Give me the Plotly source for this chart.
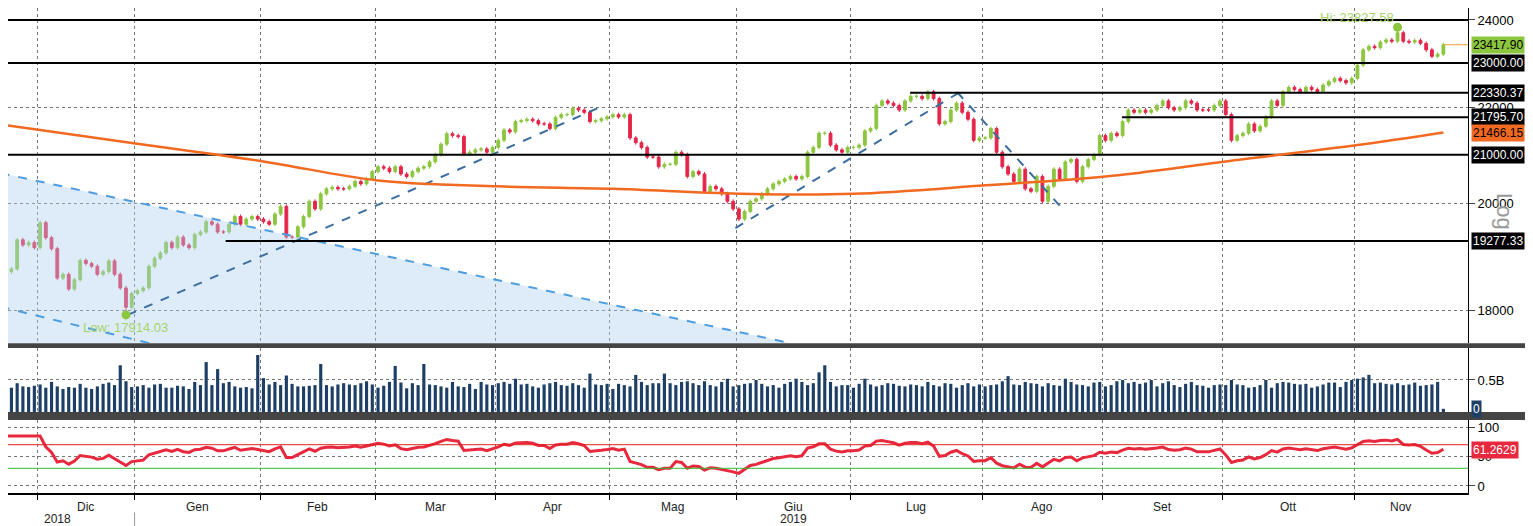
import numpy as np
import pandas as pd
import plotly.graph_objects as go
from plotly.subplots import make_subplots

# daily closes, one list per month (Nov 2018 .. Nov 2019)
nov18 = [18700, 18750, 19300, 19200, 19250, 19150]
dic18 = [19630, 19340, 19130, 18580, 18650, 18380, 18550, 18910, 18850, 18800, 18650, 18700,
         18900, 18650, 18400, 18050, 18300]
gen19 = [18350, 18400, 18800, 18950, 19050, 19250, 19150, 19350, 19200, 19150, 19400, 19450,
         19650, 19600, 19450, 19450, 19600, 19750, 19600, 19700, 19750, 19700]
feb19 = [19650, 19600, 19800, 19950, 19350, 19350, 19550, 19750, 20050, 19900, 20200, 20300,
         20330, 20300, 20300, 20350, 20450, 20400, 20500, 20650]
mar19 = [20750, 20720, 20650, 20750, 20600, 20550, 20650, 20720, 20750, 20850, 21000, 21220,
         21440, 21400, 21380, 21010, 21050, 21100, 21120, 21050, 21150]
apr19 = [21300, 21520, 21480, 21700, 21720, 21750, 21720, 21650, 21650, 21550, 21790, 21850,
         21850, 21990, 21950, 21900, 21700, 21720, 21760, 21800]
mag19 = [21850, 21800, 21850, 21350, 21250, 21150, 20950, 20950, 20750, 20800, 20800, 21050,
         21000, 20550, 20650, 20600, 20250, 20350, 20300, 20200, 20050, 19900]
giu19 = [19700, 19850, 20050, 20100, 20200, 20300, 20400, 20450, 20500, 20550, 20500, 20550,
         21050, 21150, 21450, 21450, 21200, 21100, 21050, 21150]
lug19 = [21150, 21200, 21500, 21550, 22050, 22150, 22100, 22050, 21950, 22150, 22250, 22250,
         22200, 22350, 22200, 21650, 21700, 21950, 22100, 21900, 21750, 21300, 21350]
ago19 = [21350, 21550, 21050, 20750, 20600, 20450, 20700, 20300, 20250, 20550, 20050, 20350,
         20700, 20500, 20850, 20900, 20450, 20750, 20900, 21000, 21400]
set19 = [21300, 21450, 21400, 21700, 21950, 21900, 21950, 21900, 21950, 22050, 22150, 22000,
         21950, 22000, 22150, 22100, 21950, 21950, 21950, 22050, 22150]
ott19 = [21850, 21300, 21400, 21450, 21650, 21500, 21600, 21800, 22150, 22050, 22350, 22450,
         22400, 22350, 22450, 22400, 22350, 22500, 22580, 22650, 22600, 22550, 22650]
nov19 = [22950, 23300, 23380, 23350, 23480, 23530, 23500, 23700, 23500, 23480, 23520, 23450,
         23300, 23150, 23200, 23417.90]

months = [nov18, dic18, gen19, feb19, mar19, apr19, mag19, giu19, lug19, ago19, set19, ott19, nov19]
month_labels = ["", "Dic", "Gen", "Feb", "Mar", "Apr", "Mag", "Giu", "Lug", "Ago", "Set", "Ott", "Nov"]

# daily volume in millions, same layout
vol = [420, 380, 450, 400, 390, 410,
       430, 380, 470, 400, 360, 390, 380, 440, 380, 360, 400, 440, 460, 420, 730, 480, 390,
       400, 420, 380, 430, 440, 380, 380, 410, 400, 360, 470, 420, 780, 420, 670, 450, 470,
       400, 380, 390, 370, 890,
       530, 430, 470, 420, 570, 440, 400, 400, 410, 420, 750, 420, 400, 430, 450, 430, 420, 450,
       480, 430,
       380, 410, 470, 720, 460, 370, 450, 420, 750, 430, 420, 400, 380, 470, 400, 390, 440, 360,
       470, 430, 420,
       450, 470, 440, 520, 430, 440, 400, 380, 430, 450, 470, 420, 410, 450, 420, 380, 600, 430,
       420, 440,
       360, 440, 420, 400, 580, 470, 420, 450, 450, 600, 450, 420, 470, 480, 450, 420, 480, 420,
       400, 470, 520, 400,
       420, 440, 450, 500, 440, 400, 420, 380, 440, 470, 520, 470, 420, 450, 620, 730, 470, 400,
       420, 420,
       380, 440, 520, 430, 400, 420, 450, 440, 410, 400, 430, 420, 400, 470, 420, 400, 450, 440,
       380, 420, 450, 400, 430,
       400, 420, 430, 480, 560, 430, 420, 470, 450, 440, 400, 450, 420, 410, 520, 470, 430, 420,
       400, 460, 470,
       400, 420, 480, 500, 450, 470, 440, 460, 500, 400, 450, 480, 420, 390, 440, 470, 420, 410,
       380, 420, 430,
       420, 500, 430, 420, 380, 390, 420, 500, 380, 450, 470, 460, 440, 430, 440, 380, 400, 430,
       460, 460, 390, 470, 500,
       520, 540, 580, 450, 460, 440, 430, 450, 420, 430, 460, 410, 420, 430, 470, 50]

# 200-day moving average at month boundaries
ma_idx = [0, 6, 23, 45, 65, 86, 106, 128, 148, 171, 192, 213, 236, 251]
ma_val = [21625, 21520, 21230, 20860, 20470, 20350, 20300, 20200, 20200, 20370, 20550, 20860,
          21200, 21466.15]

# drawn studies: (x0, y0, x1, y1) in trading-day index / price
trend_lines = [(21.3, 17914, 103.8, 22015), (127.4, 19525, 166.6, 22345), (166.1, 22345, 185, 19840)]
channel_upper = (-0.9, 20620, 137, 17420)
channel_lower = (-0.9, 18060, 30, 17300)
levels = [24000, 23000, 22330.37, 21795.70, 21000, 19277.33]
level_start = [-0.9, -0.9, 157.9, 194.9, -0.9, 38.4]
hi_idx, hi_val = 243, 23827.58
lo_idx, lo_val = 21, 17914.03
last_price, last_ma, last_rsi = 23417.90, 21466.15, 61.2629

close = np.array([c for m in months for c in m], dtype=float)
n = len(close)
x = np.arange(n)
opens = np.r_[close[0] - 60, close[:-1]]
high = np.maximum(opens, close) * 1.002
low = np.minimum(opens, close) * 0.998
high[hi_idx] = hi_val
low[lo_idx] = lo_val

d = pd.Series(close).diff()
up = d.clip(lower=0).ewm(alpha=1 / 14, min_periods=1).mean()
dn = (-d.clip(upper=0)).ewm(alpha=1 / 14, min_periods=1).mean()
rsi = (100 - 100 / (1 + up / dn))
rsi[:6] = rsi[6]

bounds = np.cumsum([len(m) for m in months])[:-1]
grid_x = [b - 0.5 for b in bounds]
starts = np.r_[0, bounds]
ends = np.r_[bounds, n]
mids = (starts + ends) / 2 - 0.5

UP, DN = "#8cc63f", "#e4264a"
XR = [0.4, 255.3]

fig = make_subplots(rows=3, cols=1, shared_xaxes=True)

# channel shading
fig.add_trace(go.Scatter(x=[channel_upper[0], channel_upper[2], channel_upper[0]],
                         y=[channel_upper[1], channel_upper[3], channel_upper[3]],
                         fill="toself", fillcolor="rgba(173,208,240,0.4)", line=dict(width=0),
                         mode="lines", hoverinfo="skip"), row=1, col=1)
for c in (channel_upper, channel_lower):
    fig.add_trace(go.Scatter(x=[c[0], c[2]], y=[c[1], c[3]], mode="lines",
                             line=dict(color="#4d9de0", width=2, dash="dash")), row=1, col=1)
for t in trend_lines:
    fig.add_trace(go.Scatter(x=[t[0], t[2]], y=[t[1], t[3]], mode="lines",
                             line=dict(color="#3b6d9e", width=2, dash="dash")), row=1, col=1)
for lv, s in zip(levels, level_start):
    fig.add_trace(go.Scatter(x=[s, XR[1]], y=[lv, lv], mode="lines",
                             line=dict(color="black", width=2)), row=1, col=1)

fig.add_trace(go.Scatter(x=ma_idx, y=ma_val, mode="lines",
                         line=dict(color="#f26a21", width=2.5, shape="spline")), row=1, col=1)
fig.add_trace(go.Scatter(x=[n - 1, XR[1]], y=[last_price, last_price], mode="lines",
                         line=dict(color="#f0a030", width=1)), row=1, col=1)

fig.add_trace(go.Candlestick(x=x, open=opens, high=high, low=low, close=close,
                             increasing=dict(line=dict(color=UP, width=1), fillcolor=UP),
                             decreasing=dict(line=dict(color=DN, width=1), fillcolor=DN),
                             whiskerwidth=0), row=1, col=1)
fig.add_trace(go.Scatter(x=[hi_idx, lo_idx], y=[hi_val, lo_val], mode="markers",
                         marker=dict(color=UP, size=9)), row=1, col=1)
lbl = dict(color="#a6d36a", size=13, family="Liberation Sans")
fig.add_annotation(x=hi_idx - 7, y=np.log10(24000), xref="x", yref="y", text="Hi: 23827.58",
                   showarrow=False, yanchor="middle", yshift=2, font=lbl)
fig.add_annotation(x=lo_idx, y=np.log10(lo_val), xref="x", yref="y", text="Low: 17914.03",
                   showarrow=False, yanchor="top", yshift=-3, font=lbl)

fig.add_trace(go.Bar(x=x, y=np.array(vol) * 1e6, marker_color="#1d3f66", marker_line_width=0,
                     width=0.55), row=2, col=1)

fig.add_trace(go.Scatter(x=x, y=rsi, mode="lines", line=dict(color="#e8283c", width=3)),
              row=3, col=1)
for lv, col in ((70, "#e02020"), (30, "#33bb33")):
    fig.add_trace(go.Scatter(x=XR, y=[lv, lv], mode="lines", line=dict(color=col, width=1)),
                  row=3, col=1)

grid = dict(showgrid=True, gridcolor="#777", griddash="dot", gridwidth=1)
for r in (1, 2, 3):
    fig.update_xaxes(range=XR, tickvals=grid_x, showticklabels=False, ticks="", **grid,
                     zeroline=False, row=r, col=1)
fig.update_xaxes(rangeslider_visible=False, row=1, col=1)
fig.update_xaxes(ticks="outside", ticklen=5, tickcolor="black", showline=True,
                 linecolor="black", linewidth=2, row=3, col=1)

yfont = dict(family="Liberation Sans", size=13, color="black")
fig.update_layout(
    width=1525, height=518, margin=dict(l=0, r=65, t=0, b=33),
    paper_bgcolor="white", plot_bgcolor="white", showlegend=False,
    yaxis=dict(domain=[0.309, 1], type="log", range=[np.log10(17420), np.log10(24287)],
               side="right", tickvals=[18000, 20000, 22000, 24000],
               ticktext=["18000", "20000", "22000", "24000"], ticks="outside",
               ticklen=6, tickfont=yfont, showline=True, linecolor="black", **grid),
    yaxis2=dict(domain=[0.167, 0.299], range=[0, 1.0e9], side="right",
                tickvals=[5e8], ticktext=["0.5B"], ticks="outside", ticklen=6,
                tickfont=yfont, showline=True, linecolor="black", zeroline=False, **grid),
    yaxis3=dict(domain=[0, 0.1505], range=[-11.9, 111.9], side="right",
                tickvals=[0, 50, 100], ticks="outside", ticklen=6, tickfont=yfont,
                showline=True, linecolor="black", zeroline=False, **grid),
)

# panel separators
for y0, y1 in ((0.299, 0.309), (0.1505, 0.167)):
    fig.add_shape(type="rect", xref="paper", yref="paper", x0=0, x1=1.05, y0=y0, y1=y1,
                  fillcolor="#444", line_width=0)

lab_font = dict(family="Liberation Sans", size=12, color="#222")
for m, lab in zip(mids, month_labels):
    if lab:
        fig.add_annotation(x=m, y=0, xref="x3", yref="paper", text=lab, showarrow=False,
                           yanchor="top", yshift=-5, font=lab_font)
fig.add_annotation(x=mids[1] - 5, y=0, xref="x3", yref="paper", text="2018", showarrow=False,
                   yanchor="top", yshift=-17, font=lab_font)
fig.add_annotation(x=mids[7], y=0, xref="x3", yref="paper", text="2019", showarrow=False,
                   yanchor="top", yshift=-17, font=lab_font)
fig.add_shape(type="line", xref="x3", yref="paper", x0=grid_x[1], x1=grid_x[1], y0=-0.04,
              y1=-0.07, line=dict(color="#999", width=1))

# value boxes on the right axis
boxes = [("y", 23417.90, "23417.90", "#8cc63f", "black"),
         ("y", 23000, "23000.00", "black", "white"),
         ("y", 22330.37, "22330.37", "black", "white"),
         ("y", 21795.70, "21795.70", "black", "white"),
         ("y", last_ma, "21466.15", "#f26a21", "black"),
         ("y", 21000, "21000.00", "black", "white"),
         ("y", 19277.33, "19277.33", "black", "white"),
         ("y2", 0.04e9, "0", "#1d3f66", "white"),
         ("y3", last_rsi, "61.2629", "#e8283c", "white")]
for yr, yv, txt, bg, fc in boxes:
    yy = np.log10(yv) if yr == "y" else yv
    fig.add_annotation(x=1.0, xref="paper", y=yy, yref=yr, text=txt, showarrow=False,
                       xanchor="left", xshift=3, bgcolor=bg, borderpad=1,
                       font=dict(family="Liberation Sans", size=12, color=fc))
fig.add_annotation(x=1.035, xref="paper", y=0.58, yref="paper", text="Log", textangle=90,
                   showarrow=False, font=dict(family="Liberation Sans", size=22, color="#999"))

fig.write_html("out.html")
